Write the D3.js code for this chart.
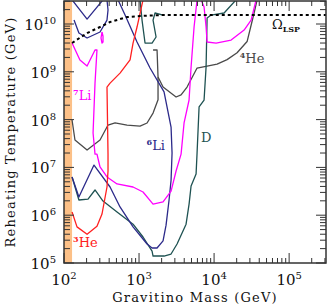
<!DOCTYPE html>
<html>
<head>
<meta charset="utf-8">
<script src="https://cdn.jsdelivr.net/npm/d3@7"></script>
<style>
  body { margin: 0; background: #fff; }
  svg text { font-family: "DejaVu Serif", serif; }
</style>
</head>
<body>
<svg id="chart" width="328" height="308"></svg>
<script>
// gravitino mass (GeV), reheating temperature (GeV)
let li6Curve = [[128,6.3e6],[158,2.4e6],[251,1.12e7],[411,3.89e6],[558,1.49e6],[832,5.7e5],[1279,2.5e5],[1491,2.06e5],[1738,2.06e5],[2089,2.9e5],[2291,6.2e5],[2512,2.08e6],[2671,5.4e6],[2754,2.0e7],[2671,7.0e7],[2154,3.8e8],[1401,1.2e9],[940,4.2e9],[651,1.54e10],[525,3.2e10]]
let li6TopV = [[128,3.2e10],[203,1.27e10],[331,3.2e10]]
let li6Loop = [[136,1.21e10],[158,6.48e9],[203,5.1e9],[302,6.8e9],[374,1.21e10],[386,1.96e10],[374,3.2e10]]

let dCurve = [[19634,3.2e10],[13594,1.7e10],[9120,1.54e10],[8072,1.34e10],[7822,1.26e9],[7356,2.57e8],[6310,1.84e8],[5933,2.0e7],[5754,7.3e6],[4936,4.08e6],[4642,1.71e6],[4233,6.5e5],[3211,2.5e5],[2671,1.54e5],[2154,1.4e5],[1537,1.4e5],[1491,1.78e5],[1130,3.5e5],[832,6.5e5],[509,1.17e6],[331,1.98e6],[259,3.37e6],[209,2.18e6],[158,2.08e6],[128,6.3e6]]
let dTop = [[1031,3.2e10],[1096,1.21e10],[1202,4.0e9],[1491,4.0e9],[1686,5.35e9],[1537,1.21e10],[1633,1.7e10],[2089,1.54e10]]

let he3Curve = [[128,1.17e6],[149,5.7e5],[203,4.0e5],[275,5.9e5],[321,1.06e6],[374,3.89e6],[386,8.4e6],[386,1.9e7],[374,4.8e8],[411,5.8e8],[558,9.4e8],[759,1.77e9],[832,4.0e9],[940,8.65e9],[1130,3.2e10]]

let li7Curve = [[128,4.0e9],[163,1.77e9],[203,1.32e9],[259,2.86e9],[275,2.86e9],[259,5.8e8],[244,5.25e7],[259,1.9e7],[275,1.9e7],[302,1.02e7],[374,6.3e6],[509,4.5e6],[832,3.89e6],[1130,3.06e6],[1537,1.71e6],[2089,1.89e6],[2671,3.2e6],[3115,8.4e6],[3631,1.9e7],[3981,8.5e7],[4642,2.57e8],[4936,1.26e9],[5412,8.65e9],[5933,3.2e10]]
let li7Right = [[6710,3.2e10],[7356,2.27e10],[7822,8.65e9],[8072,4.2e9],[10640,4.0e9],[16865,4.62e9],[25119,7.48e9],[31144,1.21e10],[36308,3.2e10]]
let li7Island = [[321,6.8e9],[331,5.6e9],[331,4.2e9],[321,4.0e9],[311,5.1e9],[321,6.8e9]]

let he4Curve = [[128,9.8e7],[140,3.74e7],[203,2.31e7],[302,3.74e7],[386,7.7e7],[479,8.5e7],[692,7.7e7],[1031,7.3e7],[1279,8.5e7],[1537,1.37e8],[1791,2.6e8],[1791,7.8e8],[1738,2.86e9],[1537,2.86e9]]
let he4Right = [[1791,7.8e8],[2089,4.8e8],[3115,2.97e8],[3631,3.3e8],[4365,4.8e8],[5933,1.2e9],[8072,1.32e9],[10965,1.45e9],[14904,1.8e9],[20261,2.5e9],[27542,4.3e9],[34145,1.7e10],[37433,3.2e10]]

let omegaLine = [[128,4.0e9],[203,6.48e9],[302,8.65e9],[411,1.1e10],[692,1.4e10],[1031,1.47e10],[2089,1.54e10],[3.1e5,1.54e10]]

let bandMass = [100, 128]

let xTickExp = [2, 3, 4, 5]
let yTickExp = [5, 6, 7, 8, 9, 10]

let labels = [
  {sup: '4', main: 'He', m: 2.2e4, t: 1.53e9, color: '#4a4a4a'},
  {sup: '7', main: 'Li', m: 132, t: 2.57e8, color: '#ff00ff'},
  {sup: '6', main: 'Li', m: 1260, t: 2.3e7, color: '#2c2a8a'},
  {sup: '', main: 'D', m: 6710, t: 3.4e7, color: '#1e5252'},
  {sup: '3', main: 'He', m: 132, t: 2.16e5, color: '#ff2020'}
]

let svg = d3.select('#chart')
let pLeft = 64, pRight = 326, pTop = 1, pBottom = 263

let x = d3.scaleLog().domain([100, 3.1e5]).range([pLeft, pRight])
let y = d3.scaleLog().domain([1e5, 3.03e10]).range([pBottom, pTop])

svg.append('defs').append('clipPath').attr('id', 'clip')
  .append('rect').attr('x', pLeft).attr('y', pTop).attr('width', pRight - pLeft).attr('height', pBottom - pTop)

svg.append('rect')
  .attr('x', x(bandMass[0])).attr('y', pTop)
  .attr('width', x(bandMass[1]) - x(bandMass[0]))
  .attr('height', pBottom - pTop)
  .attr('fill', '#fcc087')

let line = d3.line().x(d => x(d[0])).y(d => y(d[1])).curve(d3.curveLinear)
let plot = svg.append('g').attr('clip-path', 'url(#clip)')

let curves = [
  [he4Curve, '#4a4a4a'], [he4Right, '#4a4a4a'],
  [dCurve, '#1e5252'], [dTop, '#1e5252'],
  [li6Curve, '#2c2a8a'], [li6TopV, '#2c2a8a'], [li6Loop, '#2c2a8a'],
  [li7Curve, '#ff00ff'], [li7Right, '#ff00ff'], [li7Island, '#ff00ff'],
  [he3Curve, '#ff2020']
]
curves.forEach(c => {
  plot.append('path').attr('d', line(c[0]))
    .attr('fill', 'none').attr('stroke', c[1]).attr('stroke-width', 1.3)
    .attr('stroke-linejoin', 'round')
})

plot.append('path').attr('d', line(omegaLine))
  .attr('fill', 'none').attr('stroke', '#000').attr('stroke-width', 2)
  .attr('stroke-dasharray', '3,3')

// ticks on all four sides, pointing inwards
let ticks = svg.append('g').attr('stroke', '#333').attr('stroke-width', 1)
let xMinor = [], yMinor = []
for (let e = 2; e < 6; e++) for (let k = 1; k < 10; k++) if (k * 10 ** e <= 3.1e5) xMinor.push([k * 10 ** e, k === 1])
for (let e = 5; e < 11; e++) for (let k = 1; k < 10; k++) if (k * 10 ** e <= 3.03e10) yMinor.push([k * 10 ** e, k === 1])
xMinor.forEach(t => {
  let len = t[1] ? 10 : 5
  ticks.append('line').attr('x1', x(t[0])).attr('x2', x(t[0])).attr('y1', pBottom).attr('y2', pBottom - len)
  ticks.append('line').attr('x1', x(t[0])).attr('x2', x(t[0])).attr('y1', pTop).attr('y2', pTop + len)
})
yMinor.forEach(t => {
  let len = t[1] ? 10 : 6
  ticks.append('line').attr('y1', y(t[0])).attr('y2', y(t[0])).attr('x1', pLeft).attr('x2', pLeft + len)
  ticks.append('line').attr('y1', y(t[0])).attr('y2', y(t[0])).attr('x1', pRight).attr('x2', pRight - len)
})

svg.append('rect').attr('x', pLeft).attr('y', pTop).attr('width', pRight - pLeft).attr('height', pBottom - pTop)
  .attr('fill', 'none').attr('stroke', '#333').attr('stroke-width', 1.5)

xTickExp.forEach(e => {
  let t = svg.append('text').attr('x', x(10 ** e)).attr('y', 285)
    .attr('text-anchor', 'middle').attr('font-size', 15).attr('fill', '#111')
  t.append('tspan').text('10')
  t.append('tspan').text(e).attr('font-size', 10).attr('dy', -6)
})
yTickExp.forEach(e => {
  let t = svg.append('text').attr('x', 56).attr('y', y(10 ** e) + 6)
    .attr('text-anchor', 'end').attr('font-size', 15).attr('fill', '#111')
  t.append('tspan').text('10')
  t.append('tspan').text(e).attr('font-size', 10).attr('dy', -6)
})

svg.append('text').attr('x', (pLeft + pRight) / 2).attr('y', 302)
  .attr('text-anchor', 'middle').attr('font-size', 13).attr('letter-spacing', 1.2)
  .attr('fill', '#111').text('Gravitino Mass (GeV)')
svg.append('text').attr('transform', 'translate(15,' + (pTop + pBottom) / 2 + ') rotate(-90)')
  .attr('text-anchor', 'middle').attr('font-size', 13).attr('letter-spacing', 1.2)
  .attr('fill', '#111').text('Reheating Temperature (GeV)')

labels.forEach(l => {
  let t = svg.append('text').attr('x', x(l.m)).attr('y', y(l.t))
    .attr('font-size', 13).attr('fill', l.color)
  if (l.sup) t.append('tspan').text(l.sup).attr('font-size', 8).attr('font-weight', 'bold').attr('dy', -5)
  t.append('tspan').text(l.main).attr('dy', l.sup ? 5 : 0)
})

let om = svg.append('text').attr('x', x(5.9e4)).attr('y', y(7.9e9)).attr('font-size', 13).attr('fill', '#111')
om.append('tspan').text('Ω')
om.append('tspan').text('LSP').attr('font-size', 8).attr('font-weight', 'bold').attr('dy', 3)
</script>
</body>
</html>
